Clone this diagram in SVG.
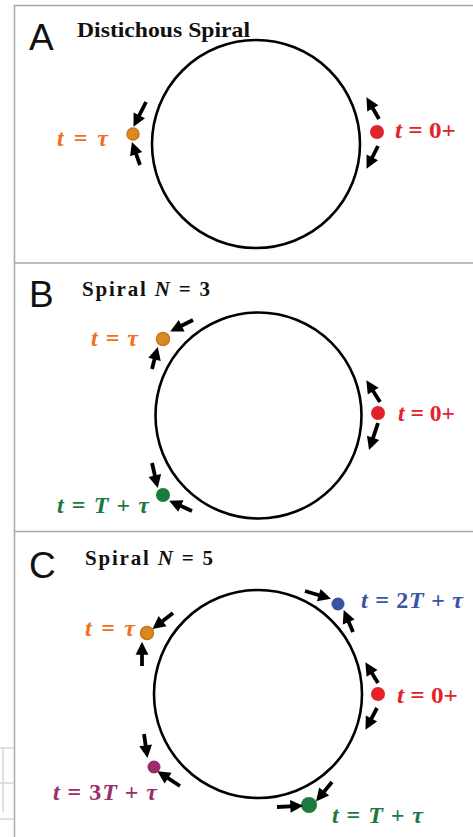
<svg xmlns="http://www.w3.org/2000/svg" width="473" height="837" viewBox="0 0 473 837">
<defs>
<style>
.frame{stroke:#a9a9a9;stroke-width:1.5;fill:none}
.faint{stroke:#d6d6d6;stroke-width:1.5;fill:none}
.ring{fill:none;stroke:#000;stroke-width:2.6}
.arr{stroke:#000;stroke-width:3.8;fill:none;marker-end:url(#ah)}
.letter{font-family:"Liberation Sans",Arial,sans-serif;font-size:37px;fill:#111}
.title{font-family:"Liberation Serif","Times New Roman",serif;font-weight:bold;font-size:21px;fill:#111}
.lbl{font-family:"Liberation Serif","Times New Roman",serif;font-weight:bold;font-size:24px}
.i{font-style:italic}
.or{fill:#f07023}.rd{fill:#e3232b}.gr{fill:#1b7a3e}.bl{fill:#3b53a3}.pu{fill:#9a2d6a}
.dor{fill:#d98a1f;stroke:#c9761a;stroke-width:1.5}
.drd{fill:#e3232b}.dgr{fill:#1b7a3e}.dbl{fill:#3b53a3}.dpu{fill:#9a2d6a}
</style>
<marker id="ah" markerUnits="userSpaceOnUse" markerWidth="14" markerHeight="14" viewBox="0 -6 11 12" refX="4" refY="0" orient="auto">
<path d="M0,-5.5 L11,0 L0,5.5 z" fill="#000"/>
</marker>
</defs>

<g id="frames">
<line class="frame" x1="14.5" y1="5.5" x2="473" y2="5.5"/>
<line class="frame" x1="14.5" y1="5" x2="14.5" y2="837"/>
<line class="frame" x1="14.5" y1="263" x2="473" y2="263"/>
<line class="frame" x1="14.5" y1="531.5" x2="473" y2="531.5"/>
<path class="faint" d="M0,748 H14 M3,748 V812 M0,783 H14 M0,819 H14"/>
</g>

<g id="panelA">
<text class="letter" x="29" y="50">A</text>
<text class="title" x="77" y="37" textLength="173" lengthAdjust="spacingAndGlyphs">Distichous Spiral</text>
<circle class="ring" cx="256" cy="144" r="104"/>
</g>
<g id="A-tau">
<circle class="dor" cx="133" cy="134" r="6"/>
<text class="lbl or" x="57" y="146" textLength="51" lengthAdjust="spacing"><tspan class="i">t</tspan> = <tspan class="i">τ</tspan></text>
</g>
<g id="A-zero">
<circle class="drd" cx="377" cy="132" r="7"/>
<text class="lbl rd" x="395" y="138" textLength="61" lengthAdjust="spacingAndGlyphs"><tspan class="i">t</tspan> = 0+</text>
</g>

<g id="panelB">
<text class="letter" x="29" y="307">B</text>
<text class="title" x="82" y="296" textLength="128" lengthAdjust="spacing">Spiral  <tspan class="i">N</tspan> = 3</text>
<circle class="ring" cx="258.5" cy="415.5" r="103"/>
</g>
<g id="B-tau">
<circle class="dor" cx="163" cy="339" r="6.5"/>
<text class="lbl or" x="91" y="346" textLength="47" lengthAdjust="spacing"><tspan class="i">t</tspan> = <tspan class="i">τ</tspan></text>
</g>
<g id="B-zero">
<circle class="drd" cx="378" cy="413" r="7"/>
<text class="lbl rd" x="398" y="421" textLength="57" lengthAdjust="spacingAndGlyphs"><tspan class="i">t</tspan> = 0+</text>
</g>
<g id="B-Ttau">
<circle class="dgr" cx="163" cy="495" r="7"/>
<text class="lbl gr" x="57" y="513" textLength="92" lengthAdjust="spacing"><tspan class="i">t</tspan> = <tspan class="i">T</tspan> + <tspan class="i">τ</tspan></text>
</g>

<g id="panelC">
<text class="letter" x="29" y="578">C</text>
<text class="title" x="85" y="565" textLength="128" lengthAdjust="spacing">Spiral  <tspan class="i">N</tspan> = 5</text>
<circle class="ring" cx="258" cy="694" r="104"/>
</g>
<g id="C-2Ttau">
<circle class="dbl" cx="338" cy="604" r="6.5"/>
<text class="lbl bl" x="361" y="608" textLength="102" lengthAdjust="spacing"><tspan class="i">t</tspan> = 2<tspan class="i">T</tspan> + <tspan class="i">τ</tspan></text>
</g>
<g id="C-tau">
<circle class="dor" cx="147" cy="633" r="6.5"/>
<text class="lbl or" x="85" y="636" textLength="50" lengthAdjust="spacing"><tspan class="i">t</tspan> = <tspan class="i">τ</tspan></text>
</g>
<g id="C-zero">
<circle class="drd" cx="378" cy="694" r="7"/>
<text class="lbl rd" x="397" y="703" textLength="61" lengthAdjust="spacingAndGlyphs"><tspan class="i">t</tspan> = 0+</text>
</g>
<g id="C-3Ttau">
<circle class="dpu" cx="154" cy="767" r="6.5"/>
<text class="lbl pu" x="53" y="800" textLength="104" lengthAdjust="spacing"><tspan class="i">t</tspan> = 3<tspan class="i">T</tspan> + <tspan class="i">τ</tspan></text>
</g>
<g id="C-Ttau">
<circle class="dgr" cx="309" cy="805" r="8"/>
<text class="lbl gr" x="332" y="823" textLength="91" lengthAdjust="spacing"><tspan class="i">t</tspan> = <tspan class="i">T</tspan> + <tspan class="i">τ</tspan></text>
</g>

<g id="connectors">
<line class="arr" x1="146" y1="102" x2="137.2" y2="119.5"/>
<line class="arr" x1="140" y1="165" x2="134.6" y2="149.7"/>
<line class="arr" x1="379" y1="119" x2="370.5" y2="104.3"/>
<line class="arr" x1="378" y1="146" x2="370.2" y2="161.5"/>

<line class="arr" x1="193" y1="320" x2="177.5" y2="327.8"/>
<line class="arr" x1="152" y1="369" x2="155.7" y2="354.8"/>
<line class="arr" x1="380" y1="402" x2="370.7" y2="387.2"/>
<line class="arr" x1="378" y1="423" x2="371.6" y2="442.3"/>
<line class="arr" x1="152" y1="463" x2="155.9" y2="480.1"/>
<line class="arr" x1="192" y1="511" x2="176.6" y2="504.1"/>

<line class="arr" x1="305" y1="591" x2="323.2" y2="596.5"/>
<line class="arr" x1="353" y1="632" x2="346.9" y2="617.6"/>
<line class="arr" x1="173" y1="613" x2="158.9" y2="624"/>
<line class="arr" x1="142" y1="666" x2="142" y2="650"/>
<line class="arr" x1="378" y1="683" x2="369.6" y2="669.3"/>
<line class="arr" x1="377" y1="708" x2="369.3" y2="722.6"/>
<line class="arr" x1="144" y1="734" x2="146.3" y2="750"/>
<line class="arr" x1="180" y1="786" x2="164.2" y2="775.7"/>
<line class="arr" x1="277" y1="807" x2="295" y2="806.2"/>
<line class="arr" x1="332" y1="782" x2="321.2" y2="795.1"/>
</g>
</svg>
